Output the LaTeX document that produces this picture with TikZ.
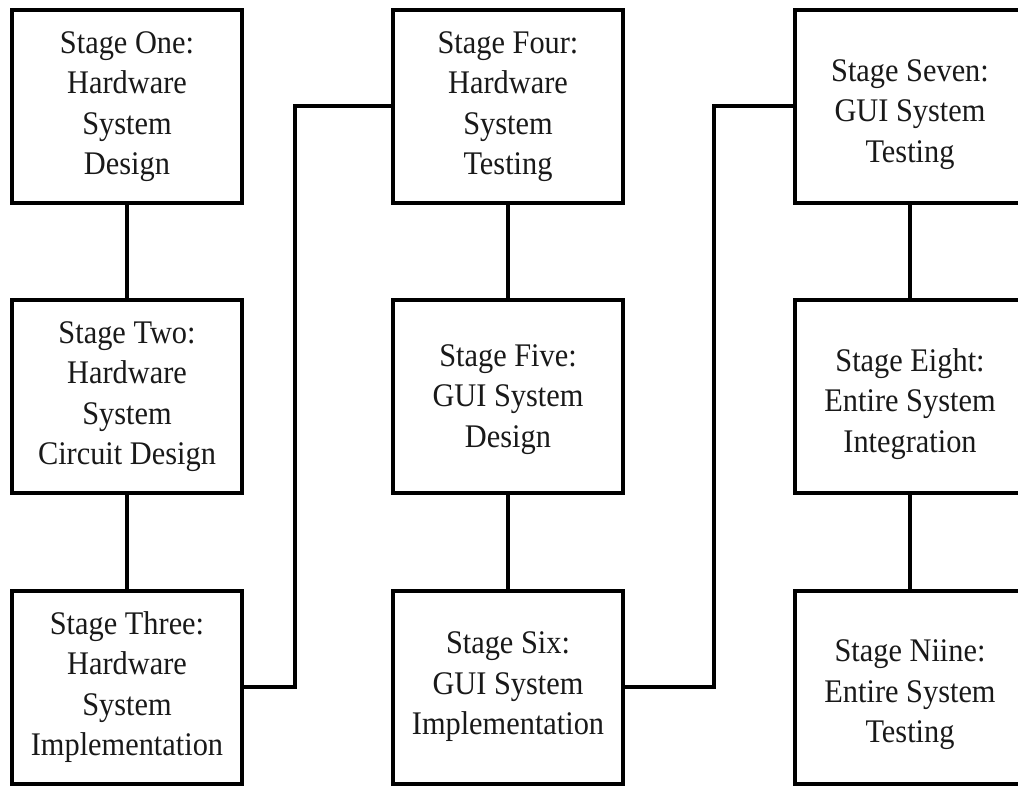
\documentclass[tikz,border=0pt]{standalone}
\usepackage{fontspec}
\setmainfont[FakeStretch=0.92]{Liberation Serif}
\newcommand{\lowerby}{\rule{0pt}{38pt}}
\begin{document}
\begin{tikzpicture}[x=1pt,y=-1pt,
  stagebox/.style={draw=black, line width=4pt, fill=white, minimum width=230pt, minimum height=193pt,
    align=center, inner sep=0pt, text=black!90,
    font=\fontsize{33}{40.5}\selectfont},
  conn/.style={draw=black, line width=4pt}]
\useasboundingbox[fill=white] (0,0) rectangle (1018,786);
\node[stagebox] (s1) at (127,106.5) {Stage One:\\Hardware\\System\\Design};
\node[stagebox] (s2) at (127,396.5) {Stage Two:\\Hardware\\System\\Circuit Design};
\node[stagebox] (s3) at (127,687) {Stage Three:\\Hardware\\System\\Implementation};
\node[stagebox] (s4) at (508,106.5) {Stage Four:\\Hardware\\System\\Testing};
\node[stagebox] (s5) at (508,396.5) {\rule{0pt}{28pt}Stage Five:\\GUI System\\Design};
\node[stagebox] (s6) at (508,687) {Stage Six:\\GUI System\\Implementation};
\node[stagebox] (s7) at (910,106.5) {\lowerby Stage Seven:\\GUI System\\Testing};
\node[stagebox] (s8) at (910,396.5) {\lowerby Stage Eight:\\Entire System\\Integration};
\node[stagebox] (s9) at (910,687) {\lowerby Stage Niine:\\Entire System\\Testing};
\draw[conn] (s1.south) -- (s2.north);
\draw[conn] (s2.south) -- (s3.north);
\draw[conn] (s4.south) -- (s5.north);
\draw[conn] (s5.south) -- (s6.north);
\draw[conn] (s7.south) -- (s8.north);
\draw[conn] (s8.south) -- (s9.north);
\draw[conn] (s3.east) -- ++(51,0) |- (s4.west);
\draw[conn] (s6.east) -- ++(89,0) |- (s7.west);
\end{tikzpicture}
\end{document}
